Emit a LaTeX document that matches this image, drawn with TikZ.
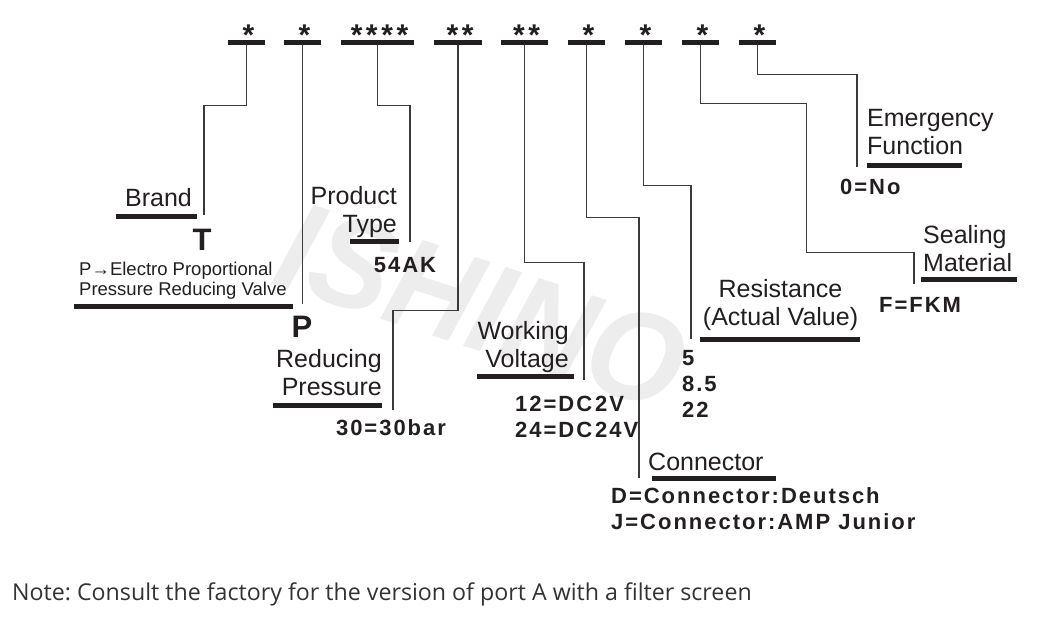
\documentclass[tikz,border=0pt]{standalone}
\usepackage{fontspec}
\setmainfont{Liberation Sans}
\newfontfamily\valfont[LetterSpace=9]{Liberation Sans}
\newfontfamily\starfont[LetterSpace=12]{Liberation Sans}
\newfontfamily\notefont{Open Sans}
\usetikzlibrary{positioning}
\definecolor{ishInk}{HTML}{231F20}
\definecolor{ishLine}{HTML}{3A3A3A}
\definecolor{ishMark}{HTML}{EDEDED}
\definecolor{ishNote}{HTML}{333333}
\frenchspacing

\begin{document}
\begin{tikzpicture}[
  x=1pt, y=-1pt,
  topbar/.style={rectangle, fill=ishInk, minimum height=5pt, inner sep=0pt},
  uline/.style={rectangle, fill=ishInk, minimum height=5pt, inner sep=0pt},
  starmark/.style={font=\starfont\bfseries\fontsize{30}{30}\selectfont, text=ishInk, inner sep=0pt, anchor=base},
  lbl/.style={font=\fontsize{25}{28}\selectfont, text=ishInk, inner sep=0pt},
  smalltxt/.style={font=\fontsize{18.5}{20}\selectfont, text=ishInk, inner sep=0pt},
  bigval/.style={font=\bfseries\fontsize{31}{31}\selectfont, text=ishInk, inner sep=0pt, anchor=base},
  val/.style={font=\valfont\bfseries\fontsize{22}{26}\selectfont, text=ishInk, inner sep=0pt},
  leader/.style={draw=ishLine, line width=1.2pt},
]
\useasboundingbox (0,0) rectangle (1056,624);
\fill[white] (0,0) rectangle (1056,624);

% Watermark
\node[font=\bfseries\itshape\fontsize{128}{128}\selectfont, text=ishMark, rotate=-18, xscale=0.95] (mark) at (482,306) {ISHINO};

% Code positions
\node[topbar, minimum width=37pt] (b1) at (246.5,42) {};
\node[topbar, minimum width=37pt] (b2) at (302.5,42) {};
\node[topbar, minimum width=73pt] (b3) at (377.5,42) {};
\node[topbar, minimum width=48pt] (b4) at (458,42) {};
\node[topbar, minimum width=47pt] (b5) at (524.5,42) {};
\node[topbar, minimum width=37pt] (b6) at (586.5,42) {};
\node[topbar, minimum width=37pt] (b7) at (643.5,42) {};
\node[topbar, minimum width=37pt] (b8) at (700.5,42) {};
\node[topbar, minimum width=37pt] (b9) at (757.5,42) {};

\node[starmark] (s1) at ([shift={(2,1)}]b1.south) {*};
\node[starmark] (s2) at ([shift={(2,1)}]b2.south) {*};
\node[starmark] (s3) at ([shift={(2,1)}]b3.south) {****};
\node[starmark] (s4) at ([shift={(2,1)}]b4.south) {**};
\node[starmark] (s5) at ([shift={(2,1)}]b5.south) {**};
\node[starmark] (s6) at ([shift={(2,1)}]b6.south) {*};
\node[starmark] (s7) at ([shift={(2,1)}]b7.south) {*};
\node[starmark] (s8) at ([shift={(2,1)}]b8.south) {*};
\node[starmark] (s9) at ([shift={(2,1)}]b9.south) {*};

% Brand
\node[lbl, anchor=base] (brand) at (158.5,206) {Brand};
\node[uline, minimum width=81pt] (brand_ul) at (156.5,216) {};
\node[bigval] (brand_val) at (202,250) {T};
\node[smalltxt, anchor=base west, align=left] (brand_txt) at (79,295) {P→Electro Proportional\\Pressure Reducing Valve};
\node[uline, minimum width=219pt] (brand_txt_ul) at (183.5,306) {};
\coordinate (brand_end) at (204,215);

% Product type
\node[lbl, anchor=base east, align=right] (ptype) at (397,232) {Product\\Type};
\node[uline, minimum width=49pt] (ptype_ul) at (374.5,241) {};
\node[val, anchor=base] (ptype_val) at (405,272) {54AK};
\coordinate (ptype_end) at (410,242);

% Reducing pressure
\node[bigval] (pres_val) at (302,337) {P};
\node[lbl, anchor=base east, align=right] (pres) at (382,395) {Reducing\\Pressure};
\node[uline, minimum width=109pt] (pres_ul) at (327.5,405) {};
\node[val, anchor=base] (pres_num) at (391,435) {30=30bar};
\coordinate (pres_end) at (393,410);

% Working voltage
\node[lbl, anchor=base east, align=right] (volt) at (569,367) {Working\\Voltage};
\node[uline, minimum width=97pt] (volt_ul) at (525.5,376) {};
\node[val, anchor=base west, align=left] (volt_val) at (515,437) {12=DC\kern3pt2V\\24=DC\kern3pt24V};
\coordinate (volt_end) at (584,380);

% Connector
\node[lbl, anchor=base west] (conn) at (648,470) {Connector};
\node[uline, minimum width=124pt] (conn_ul) at (714,478) {};
\node[val, anchor=base west, align=left] (conn_val) at (611,529) {D=Connector:Deutsch\\J=Connector:AMP Junior};
\coordinate (conn_end) at (639,478);

% Resistance
\node[lbl, anchor=base, align=center] (res) at (780.5,325) {Resistance\\(Actual Value)};
\node[uline, minimum width=160pt] (res_ul) at (780,339) {};
\node[val, anchor=base west, align=left] (res_val) at (682,417) {5\\8.5\\22};
\coordinate (res_end) at (691,339);

% Sealing material
\node[lbl, anchor=base west, align=left] (seal) at (923,271) {Sealing\\Material};
\node[uline, minimum width=96pt] (seal_ul) at (969,279) {};
\node[val, anchor=base west] (seal_val) at (879,312) {F=FKM};
\coordinate (seal_end) at (914,284);

% Emergency function
\node[lbl, anchor=base west, align=left] (emerg) at (867,154) {Emergency\\Function};
\node[uline, minimum width=95pt] (emerg_ul) at (914.5,165) {};
\node[val, anchor=base west] (emerg_val) at (840,194) {0=No};
\coordinate (emerg_end) at (857,167);

% Leader lines
\draw[leader] (b1.south) -- ++(0,60.5) -| (brand_end);
\draw[leader] (b2.south) -- ++(0,259.5);
\draw[leader] (b3.south) -- ++(0,60.5) -| (ptype_end);
\draw[leader] (b4.south) -- ++(0,265.5) -| (pres_end);
\draw[leader] (b5.south) -- ++(0,217.5) -| (volt_end);
\draw[leader] (b6.south) -- ++(0,172.5) -| (conn_end);
\draw[leader] (b7.south) -- ++(0,140.5) -| (res_end);
\draw[leader] (b8.south) -- ++(0,58.5) -| ++(106,149) -| (seal_end);
\draw[leader] (b9.south) -- ++(0,29.5) -| (emerg_end);

% Note
\node[font=\notefont\fontsize{23.2}{26}\selectfont, text=ishNote, anchor=base west, inner sep=0pt] (note) at (12,600) {Note: Consult the factory for the version of port A with a filter screen};

\end{tikzpicture}
\end{document}
